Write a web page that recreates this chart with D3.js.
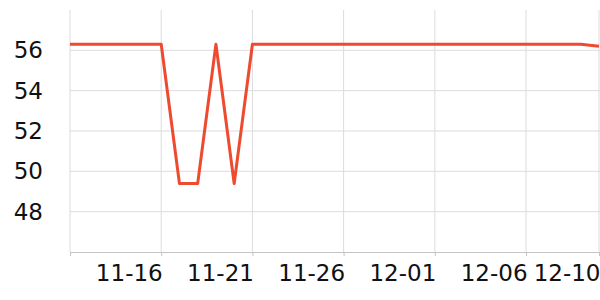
<!DOCTYPE html>
<html>
<head>
<meta charset="utf-8">
<script src="https://cdn.jsdelivr.net/npm/d3@7"></script>
<style>
  body { margin: 0; background: #fff; }
  svg { font-family: "DejaVu Sans", sans-serif; }
</style>
</head>
<body>
<svg id="chart" width="600" height="300"></svg>
<script>
// daily readings, 11-11 .. 12-10
const days = ["11-11","11-12","11-13","11-14","11-15","11-16","11-17","11-18","11-19","11-20",
              "11-21","11-22","11-23","11-24","11-25","11-26","11-27","11-28","11-29","11-30",
              "12-01","12-02","12-03","12-04","12-05","12-06","12-07","12-08","12-09","12-10"];
const values = [56.3, 56.3, 56.3, 56.3, 56.3, 56.3, 49.4, 49.4, 56.3, 49.4,
                56.3, 56.3, 56.3, 56.3, 56.3, 56.3, 56.3, 56.3, 56.3, 56.3,
                56.3, 56.3, 56.3, 56.3, 56.3, 56.3, 56.3, 56.3, 56.3, 56.2];
const xTicks = ["11-11","11-16","11-21","11-26","12-01","12-06","12-10"];
const yTicks = [48, 50, 52, 54, 56];

const parse = d3.timeParse("%Y-%m-%d");
const toDate = s => parse("2023-" + s);
const data = days.map((d, i) => ({ date: toDate(d), value: values[i] }));

const svg = d3.select("#chart");
const m = { left: 70, right: 599, top: 10, bottom: 252 };

const x = d3.scaleTime()
  .domain(d3.extent(data, d => d.date))
  .range([m.left, m.right]);
const y = d3.scaleLinear()
  .domain([46, 58])
  .range([m.bottom, m.top]);

// grid
svg.append("g")
  .selectAll("line")
  .data(yTicks)
  .join("line")
  .attr("x1", m.left).attr("x2", 600)
  .attr("y1", d => y(d)).attr("y2", d => y(d))
  .attr("stroke", "#dcdcdc").attr("stroke-width", 1);

svg.append("g")
  .selectAll("line")
  .data(xTicks.map(toDate))
  .join("line")
  .attr("x1", d => x(d)).attr("x2", d => x(d))
  .attr("y1", m.top).attr("y2", m.bottom)
  .attr("stroke", "#dcdcdc").attr("stroke-width", 1);

// x axis, labels sit to the left of their tick
const xAxis = svg.append("g")
  .attr("transform", `translate(0,${m.bottom})`)
  .call(d3.axisBottom(x)
    .tickValues(xTicks.map(toDate))
    .tickFormat(d3.timeFormat("%m-%d"))
    .tickSize(4)
    .tickPadding(9));
xAxis.select(".domain").attr("stroke", "#c4c4c4").attr("d", `M${m.left},0.5H600`);
xAxis.selectAll(".tick line").attr("stroke", "#c4c4c4");
xAxis.selectAll(".tick text")
  .attr("font-size", 23)
  .attr("fill", "#111")
  .attr("text-anchor", "end")
  .attr("x", 1)
  .attr("font-family", "DejaVu Sans, sans-serif");
xAxis.selectAll(".tick text").filter((d, i) => i === 0).remove();

// y axis labels
const yAxis = svg.append("g")
  .attr("transform", `translate(${m.left},0)`)
  .call(d3.axisLeft(y).tickValues(yTicks).tickSize(0).tickPadding(27));
yAxis.select(".domain").remove();
yAxis.selectAll(".tick text")
  .attr("font-size", 23)
  .attr("fill", "#111")
  .attr("font-family", "DejaVu Sans, sans-serif");

// line
const line = d3.line()
  .x(d => x(d.date))
  .y(d => y(d.value));

svg.append("path")
  .datum(data)
  .attr("fill", "none")
  .attr("stroke", "#ee4a2f")
  .attr("stroke-width", 3)
  .attr("stroke-linejoin", "round")
  .attr("d", line);
</script>
</body>
</html>
